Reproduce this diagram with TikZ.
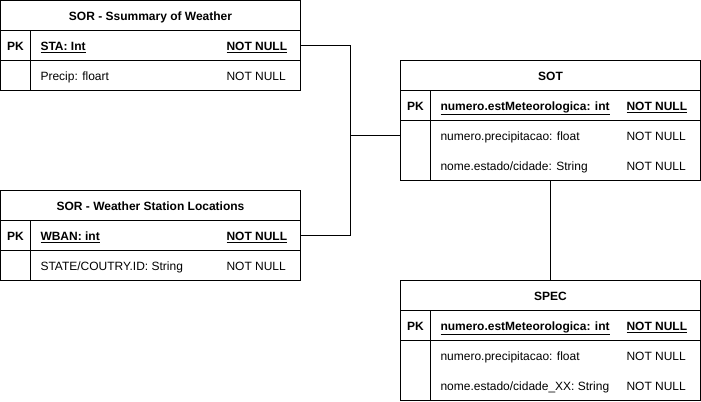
\documentclass[tikz,border=0pt]{standalone}
\usepackage{fontspec}
\setmainfont{Liberation Sans}
\usepackage{tikz}
\usetikzlibrary{positioning, calc}

\begin{document}
\begin{tikzpicture}[
				x=0.75pt, y=-0.75pt,
				node distance=0pt,
				every node/.style={inner sep=0pt, outer sep=0pt, text height=6.75pt, text depth=0pt,
					font=\fontsize{9}{11}\selectfont},
				title/.style={rectangle, draw, line width=0.75pt, minimum width=225pt,
					minimum height=22.5pt, font=\fontsize{9}{11}\selectfont\bfseries},
				pkcell/.style={rectangle, draw, line width=0.75pt, minimum width=22.5pt,
					minimum height=22.5pt, font=\fontsize{9}{11}\selectfont\bfseries},
				fieldcell/.style={rectangle, draw, line width=0.75pt, minimum width=202.5pt,
					minimum height=22.5pt},
				keytxt/.style={anchor=west, font=\fontsize{9}{11}\selectfont\bfseries},
				fieldtxt/.style={anchor=west},
				link/.style={line width=0.75pt}
				]
				\useasboundingbox (0,0) rectangle (701,401);

				% SOR - summary
				\node[title] (sumT) at (150.5,15.5) {SOR - Ssummary of Weather};
				\node[pkcell, below right=0pt and 0pt of sumT.south west] (sumPK) {PK};
				\node[fieldcell, right=of sumPK] (sumKey) {};
				\node[pkcell, below=of sumPK] (sumPK2) {};
				\node[fieldcell, right=of sumPK2] (sumRow) {};
				\node[keytxt] (sumF1) at ([xshift=7.5pt]sumKey.west) {\underline{STA: Int}};
				\node[keytxt] (sumN1) at ([xshift=-55.5pt]sumKey.east) {\underline{NOT NULL}};
				\node[fieldtxt] (sumF2) at ([xshift=7.5pt]sumRow.west) {Precip: floart};
				\node[fieldtxt] (sumN2) at ([xshift=-55.5pt]sumRow.east) {NOT NULL};

				% SOR - stations
				\node[title] (wsT) at (150.5,205.5) {SOR - Weather Station Locations};
				\node[pkcell, below right=0pt and 0pt of wsT.south west] (wsPK) {PK};
				\node[fieldcell, right=of wsPK] (wsKey) {};
				\node[pkcell, below=of wsPK] (wsPK2) {};
				\node[fieldcell, right=of wsPK2] (wsRow) {};
				\node[keytxt] (wsF1) at ([xshift=7.5pt]wsKey.west) {\underline{WBAN: int}};
				\node[keytxt] (wsN1) at ([xshift=-55.5pt]wsKey.east) {\underline{NOT NULL}};
				\node[fieldtxt] (wsF2) at ([xshift=7.5pt]wsRow.west) {STATE/COUTRY.ID: String};
				\node[fieldtxt] (wsN2) at ([xshift=-55.5pt]wsRow.east) {NOT NULL};

				% SOT
				\node[title] (sotT) at (550.5,75.5) {SOT};
				\node[pkcell, below right=0pt and 0pt of sotT.south west] (sotPK) {PK};
				\node[fieldcell, right=of sotPK] (sotKey) {};
				\node[pkcell, below=of sotPK, minimum height=45pt] (sotPK2) {};
				\node[fieldcell, right=of sotPK2, minimum height=45pt] (sotRow) {};
				\node[keytxt] (sotF1) at ([xshift=7.5pt]sotKey.west) {\underline{numero.estMeteorologica: int}};
				\node[keytxt] (sotN1) at ([xshift=-55.5pt]sotKey.east) {\underline{NOT NULL}};
				\node[fieldtxt] (sotF2) at ($(sotRow.north west)+(10,15)$) {numero.precipitacao: float};
				\node[fieldtxt] (sotN2) at ($(sotRow.north east)+(-74,15)$) {NOT NULL};
				\node[fieldtxt] (sotF3) at ($(sotRow.north west)+(10,45)$) {nome.estado/cidade: String};
				\node[fieldtxt] (sotN3) at ($(sotRow.north east)+(-74,45)$) {NOT NULL};

				% SPEC
				\node[title] (specT) at (550.5,295.5) {SPEC};
				\node[pkcell, below right=0pt and 0pt of specT.south west] (specPK) {PK};
				\node[fieldcell, right=of specPK] (specKey) {};
				\node[pkcell, below=of specPK, minimum height=45pt] (specPK2) {};
				\node[fieldcell, right=of specPK2, minimum height=45pt] (specRow) {};
				\node[keytxt] (specF1) at ([xshift=7.5pt]specKey.west) {\underline{numero.estMeteorologica: int}};
				\node[keytxt] (specN1) at ([xshift=-55.5pt]specKey.east) {\underline{NOT NULL}};
				\node[fieldtxt] (specF2) at ($(specRow.north west)+(10,15)$) {numero.precipitacao: float};
				\node[fieldtxt] (specN2) at ($(specRow.north east)+(-74,15)$) {NOT NULL};
				\node[fieldtxt] (specF3) at ($(specRow.north west)+(10,45)$) {nome.estado/cidade\_XX: String};
				\node[fieldtxt] (specN3) at ($(specRow.north east)+(-74,45)$) {NOT NULL};

				\draw[link] (sumKey.east) -- ++(50,0) coordinate (junc) |- (wsKey.east);
				\draw[link] (junc |- sotF2) -- (sotF2 -| sotPK2.west);
				\draw[link] (sotRow.south -| sotT.south) -- (specT.north);
			\end{tikzpicture}
\end{document}
